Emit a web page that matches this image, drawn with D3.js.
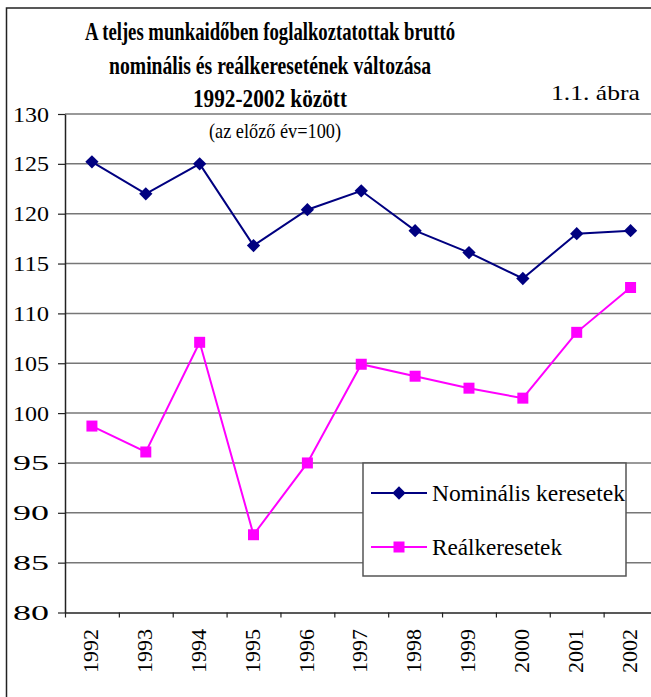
<!DOCTYPE html>
<html>
<head>
<meta charset="utf-8">
<script src="https://cdn.jsdelivr.net/npm/d3@7"></script>
<style>
  body { margin: 0; background: #fff; }
  svg { display: block; }
</style>
</head>
<body>
<div id="chart"></div>
<script>
// data
var years = ["1992", "1993", "1994", "1995", "1996", "1997", "1998", "1999", "2000", "2001", "2002"];
var nominal = [125.2, 122.0, 125.0, 116.8, 120.4, 122.3, 118.3, 116.1, 113.5, 118.0, 118.3];
var real = [98.7, 96.1, 107.1, 87.8, 95.0, 104.9, 103.7, 102.5, 101.5, 108.1, 112.6];
var yTicks = [80, 85, 90, 95, 100, 105, 110, 115, 120, 125, 130];
var seriesNames = ["Nominális keresetek", "Reálkeresetek"];
var titleLines = ["A teljes munkaidőben foglalkoztatottak bruttó",
                  "nominális és reálkeresetének változása",
                  "1992-2002 között"];
var subtitle = "(az előző év=100)";
var figLabel = "1.1. ábra";

var FONT = "'Liberation Serif', 'Times New Roman', serif";
var width = 651, height = 697;
var plotLeft = 65, plotRight = 657.5, plotTop = 114, plotBottom = 612.5;

var svg = d3.select("#chart")
  .append("svg")
  .attr("width", width)
  .attr("height", height);

// outer frame (runs off the right and bottom edge)
svg.append("rect")
  .attr("x", 6.5).attr("y", 8)
  .attr("width", 800).attr("height", 800)
  .attr("fill", "none")
  .attr("stroke", "#222")
  .attr("stroke-width", 1.5);

var x = d3.scaleBand().domain(years).range([plotLeft, plotRight]);
var xEdge = d3.scaleLinear().domain([0, years.length]).range([plotLeft, plotRight]);
var y = d3.scaleLinear().domain([80, 130]).range([plotBottom, plotTop]);

// horizontal grid
svg.append("g")
  .selectAll("line")
  .data(yTicks.filter(function(d) { return d > 80; }))
  .enter().append("line")
  .attr("x1", plotLeft).attr("x2", plotRight)
  .attr("y1", function(d) { return y(d); })
  .attr("y2", function(d) { return y(d); })
  .attr("stroke", "#777")
  .attr("stroke-width", 1.5);

// y axis
var yAxis = svg.append("g")
  .attr("transform", "translate(" + plotLeft + ",0)")
  .call(d3.axisLeft(y).tickValues(yTicks).tickSizeInner(7).tickSizeOuter(0).tickPadding(9));
yAxis.select(".domain").attr("stroke", "#222").attr("stroke-width", 1.5);
yAxis.selectAll(".tick line").attr("stroke", "#222").attr("stroke-width", 1.2);
yAxis.selectAll(".tick text")
  .style("font-family", FONT)
  .style("font-size", "22px")
  .attr("fill", "#000")
  .attr("textLength", 36)
  .attr("lengthAdjust", "spacingAndGlyphs");

// x axis: ticks on category edges
var xAxis = svg.append("g")
  .attr("transform", "translate(0," + plotBottom + ")")
  .call(d3.axisBottom(xEdge).tickValues(d3.range(0, years.length + 1)).tickSizeInner(5).tickSizeOuter(0).tickFormat(""));
xAxis.select(".domain").attr("stroke", "#222").attr("stroke-width", 1.5);
xAxis.selectAll(".tick line").attr("stroke", "#222").attr("stroke-width", 1.2);

svg.append("g")
  .selectAll("text")
  .data(years)
  .enter().append("text")
  .attr("transform", function(d) {
    return "translate(" + (x(d) + x.bandwidth() / 2 - 1.5) + "," + (plotBottom + 16.5) + ")rotate(-90)";
  })
  .attr("text-anchor", "end")
  .attr("dy", "0.35em")
  .style("font-family", FONT)
  .style("font-size", "22px")
  .attr("textLength", 44)
  .attr("lengthAdjust", "spacingAndGlyphs")
  .text(function(d) { return d; });

// lines
var line = d3.line()
  .x(function(d, i) { return x(years[i]) + x.bandwidth() / 2; })
  .y(function(d) { return y(d); });

svg.append("path")
  .datum(real)
  .attr("d", line)
  .attr("fill", "none")
  .attr("stroke", "#ff00ff")
  .attr("stroke-width", 2);

svg.append("path")
  .datum(nominal)
  .attr("d", line)
  .attr("fill", "none")
  .attr("stroke", "#000080")
  .attr("stroke-width", 2);

var diamond = d3.symbol().type(d3.symbolSquare).size(88);
var square = d3.symbol().type(d3.symbolSquare).size(121);

svg.append("g")
  .selectAll("path")
  .data(real)
  .enter().append("path")
  .attr("d", square)
  .attr("transform", function(d, i) {
    return "translate(" + (x(years[i]) + x.bandwidth() / 2) + "," + y(d) + ")";
  })
  .attr("fill", "#ff00ff");

svg.append("g")
  .selectAll("path")
  .data(nominal)
  .enter().append("path")
  .attr("d", diamond)
  .attr("transform", function(d, i) {
    return "translate(" + (x(years[i]) + x.bandwidth() / 2) + "," + y(d) + ")rotate(45)";
  })
  .attr("fill", "#000080");

// title block
var titleX = 270;
var titleWidths = [370, 322, 154];
svg.append("g")
  .selectAll("text")
  .data(titleLines)
  .enter().append("text")
  .attr("x", titleX)
  .attr("y", function(d, i) { return 40 + i * 33.5; })
  .attr("text-anchor", "middle")
  .style("font-family", FONT)
  .style("font-size", "26px")
  .style("font-weight", "bold")
  .attr("textLength", function(d, i) { return titleWidths[i]; })
  .attr("lengthAdjust", "spacingAndGlyphs")
  .text(function(d) { return d; });

svg.append("text")
  .attr("x", 275).attr("y", 138)
  .attr("text-anchor", "middle")
  .style("font-family", FONT)
  .style("font-size", "22px")
  .attr("textLength", 132)
  .attr("lengthAdjust", "spacingAndGlyphs")
  .text(subtitle);

svg.append("text")
  .attr("x", 551).attr("y", 100)
  .style("font-family", FONT)
  .style("font-size", "21px")
  .attr("textLength", 89)
  .attr("lengthAdjust", "spacingAndGlyphs")
  .text(figLabel);

// legend
var legend = svg.append("g").attr("transform", "translate(363,463)");
legend.append("rect")
  .attr("width", 263).attr("height", 113)
  .attr("fill", "#fff")
  .attr("stroke", "#555")
  .attr("stroke-width", 1.5);

var legendColors = ["#000080", "#ff00ff"];
var legendWidths = [193, 130];
var items = legend.selectAll(".item")
  .data(seriesNames)
  .enter().append("g")
  .attr("class", "item")
  .attr("transform", function(d, i) { return "translate(0," + (30 + i * 54) + ")"; });

items.append("line")
  .attr("x1", 8).attr("x2", 64)
  .attr("stroke", function(d, i) { return legendColors[i]; })
  .attr("stroke-width", 2);

items.append("path")
  .attr("d", function(d, i) { return i === 0 ? diamond() : square(); })
  .attr("transform", function(d, i) { return "translate(36,0)" + (i === 0 ? "rotate(45)" : ""); })
  .attr("fill", function(d, i) { return legendColors[i]; });

items.append("text")
  .attr("x", 69)
  .attr("dy", "0.33em")
  .style("font-family", FONT)
  .style("font-size", "24px")
  .attr("textLength", function(d, i) { return legendWidths[i]; })
  .attr("lengthAdjust", "spacingAndGlyphs")
  .text(function(d) { return d; });
</script>
</body>
</html>
